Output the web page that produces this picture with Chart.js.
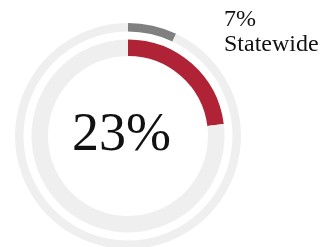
<!DOCTYPE html>
<html>
<head>
<meta charset="utf-8">
<script src="https://cdn.jsdelivr.net/npm/chart.js@4/dist/chart.umd.min.js"></script>
<style>
    html, body {
        margin: 0;
        padding: 0;
        background: #ffffff;
        overflow: hidden;
    }
    .wrap {
        position: relative;
        width: 331px;
        height: 247px;
    }
    .chart-box {
        position: absolute;
        left: 15px;
        top: 23px;
        width: 226px;
        height: 226px;
    }
    .center-value {
        position: absolute;
        left: 72px;
        top: 105px;
        font-family: "Liberation Serif", serif;
        font-size: 54px;
        line-height: 54px;
        color: #111111;
        white-space: nowrap;
    }
    .side-label {
        position: absolute;
        left: 224px;
        top: 6px;
        font-family: "Liberation Serif", serif;
        font-size: 24px;
        line-height: 25px;
        color: #111111;
        white-space: nowrap;
    }
</style>
</head>
<body>
<div class="wrap">
    <div class="chart-box"><canvas id="ringChart"></canvas></div>
    <div class="center-value" id="centerValue"></div>
    <div class="side-label" id="sideLabel"></div>
</div>
<script>
const ringLabels = ["Share", "Rest"];
const statewideData = [7, 93];
const localData = [23, 77];
const gapData = [100];

const statewideName = "Statewide";

document.addEventListener("DOMContentLoaded", function () {
    initRingChart();
});

function initRingChart() {
    document.getElementById("centerValue").textContent = localData[0] + "%";
    document.getElementById("sideLabel").innerHTML = statewideData[0] + "%<br>" + statewideName;

    const data = {
        labels: ringLabels,
        datasets: [
            {
                label: "Statewide",
                data: statewideData,
                backgroundColor: ["#808080", "#efefef"],
                borderWidth: 0,
                weight: 8.5
            },
            {
                // empty ring, only there to leave the white gap
                label: "gap",
                data: gapData,
                backgroundColor: ["rgba(0,0,0,0)"],
                borderWidth: 0,
                weight: 8
            },
            {
                label: "Local",
                data: localData,
                backgroundColor: ["#b02236", "#efefef"],
                borderWidth: 0,
                weight: 16.5
            }
        ]
    };

    new Chart(document.getElementById("ringChart").getContext("2d"), {
        type: "doughnut",
        data: data,
        options: {
            animation: false,
            responsive: true,
            maintainAspectRatio: false,
            cutout: 80,
            layout: {
                padding: 0
            },
            plugins: {
                legend: {
                    display: false
                },
                tooltip: {
                    enabled: false
                }
            }
        }
    });
}
</script>
</body>
</html>
